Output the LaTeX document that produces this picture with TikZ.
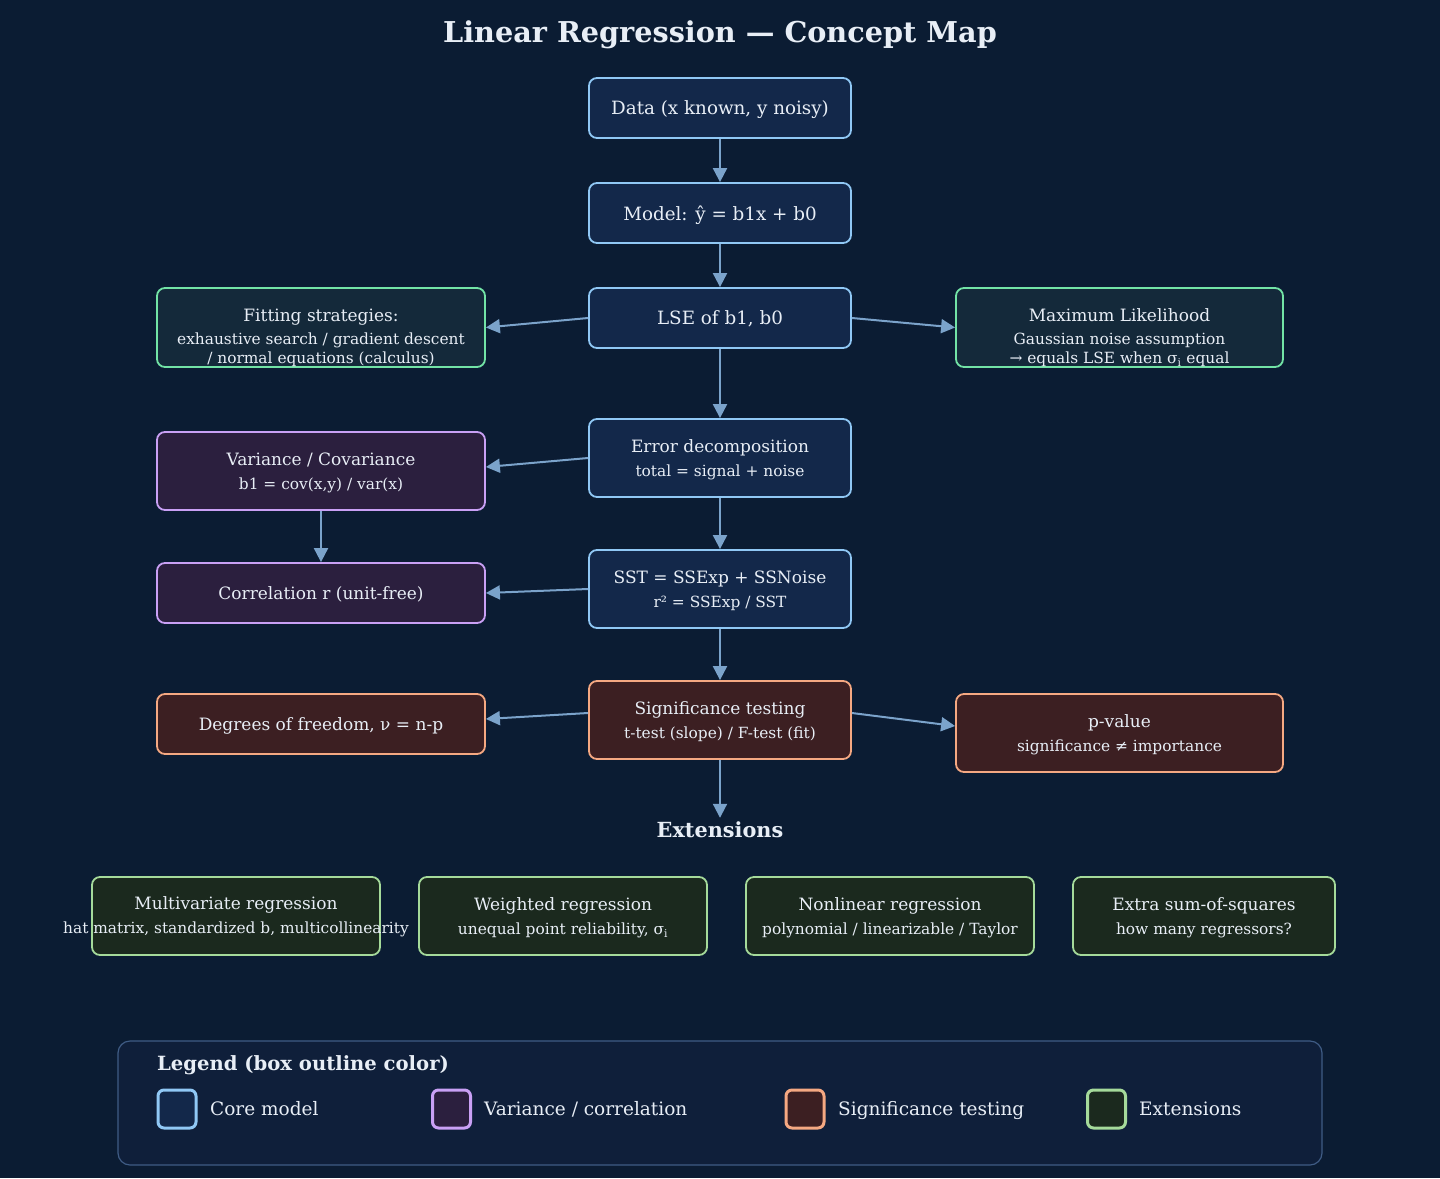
\documentclass[tikz,border=0pt]{standalone}
\usepackage{fontspec}
\setmainfont{DejaVu Serif}
\usetikzlibrary{arrows.meta}

\definecolor{bg}{HTML}{0B1C33}
\definecolor{txt}{HTML}{E8EEF6}
\definecolor{arrowc}{HTML}{7BA3CB}
\definecolor{corefill}{HTML}{13284A}
\definecolor{coreline}{HTML}{90C8F5}
\definecolor{fitfill}{HTML}{14293A}
\definecolor{fitline}{HTML}{72E3A6}
\definecolor{varfill}{HTML}{2B1F3E}
\definecolor{varline}{HTML}{C9A0F5}
\definecolor{sigfill}{HTML}{3C1F22}
\definecolor{sigline}{HTML}{F5A882}
\definecolor{extfill}{HTML}{1B291E}
\definecolor{extline}{HTML}{A5DA9A}
\definecolor{legfill}{HTML}{0F1F3A}
\definecolor{legline}{HTML}{3F5C85}

% first line of a box and the smaller lines under it
\newcommand{\hd}[1]{{\fontsize{17}{24}\selectfont #1}}
\newcommand{\sub}[1]{{\fontsize{15.4}{24}\selectfont #1}}

\tikzset{
  box/.style={rounded corners=8pt, line width=1.8pt, align=center, text=txt,
    inner sep=0pt, minimum width=262pt, minimum height=60pt, text depth=0pt,
    font=\fontsize{15.4}{24}\selectfont},
  corebox/.style={box, draw=coreline, fill=corefill},
  fitbox/.style={box, draw=fitline, fill=fitfill, minimum width=328pt, minimum height=79pt},
  varbox/.style={box, draw=varline, fill=varfill, minimum width=328pt},
  sigbox/.style={box, draw=sigline, fill=sigfill},
  extbox/.style={box, draw=extline, fill=extfill, minimum width=288pt, minimum height=78pt},
  label/.style={text=txt, align=center, inner sep=0pt, font=\fontsize{15.4}{24}\selectfont},
  big/.style={font=\fontsize{18.3}{22}\selectfont},
  mid/.style={font=\fontsize{17}{22}\selectfont},
  link/.style={draw=arrowc, line width=2pt, -{Triangle[length=14pt,width=14pt]}},
  swatch/.style={rounded corners=6pt, line width=3pt, minimum width=38pt, minimum height=38pt, inner sep=0pt},
  legtext/.style={text=txt, anchor=base west, inner sep=0pt, font=\fontsize{18.5}{22}\selectfont}
}

\begin{document}
\begin{tikzpicture}[x=1pt,y=-1pt]
  \useasboundingbox (0,0) rectangle (1440,1178);
  \fill[bg] (0,0) rectangle (1440,1178);

  % title
  \node[text=txt, font=\bfseries\fontsize{28.7}{32}\selectfont] (title) at (720,35) {Linear Regression — Concept Map};

  % core chain
  \node[corebox, big] (data)  at (720,108) {Data (x known, y noisy)};
  \node[corebox, big] (model) at (720,213) {Model: ŷ = b1x + b0};
  \node[corebox, big] (lse)   at (720,318) {LSE of b1, b0};
  \node[corebox, minimum height=78pt] (err) at (720,458) {\hd{Error decomposition}\\\sub{total = signal + noise}};
  \node[corebox, minimum height=78pt] (sst) at (720,589) {\hd{SST = SSExp + SSNoise}\\\sub{r² = SSExp / SST}};
  \node[sigbox, minimum height=78pt] (sig) at (720,720) {\hd{Significance testing}\\\sub{t-test (slope) / F-test (fit)}};

  % side branches
  \node[fitbox] (fit) at (321,327.5) {};
  \node[label] (fitt) at (321,338) {\hd{Fitting strategies:}\\[-1pt]\sub{exhaustive search / gradient descent}\\[-5pt]\sub{/ normal equations (calculus)}};
  \node[fitbox, minimum width=327pt] (ml) at (1119.5,327.5) {};
  \node[label] (mlt) at (1119.5,338) {\hd{Maximum Likelihood}\\[-1pt]\sub{Gaussian noise assumption}\\[-5pt]\sub{→ equals LSE when σ\textsubscript{i} equal}};
  \node[varbox, minimum height=78pt] (var) at (321,471) {\hd{Variance / Covariance}\\\sub{b1 = cov(x,y) / var(x)}};
  \node[varbox, mid] (corr) at (321,593) {Correlation r (unit-free)};
  \node[sigbox, mid, minimum width=328pt] (dof) at (321,724) {Degrees of freedom, ν = n-p};
  \node[sigbox, minimum width=327pt, minimum height=78pt] (pv) at (1119.5,733) {\hd{p-value}\\\sub{significance ≠ importance}};

  % extensions
  \node[text=txt, font=\bfseries\fontsize{20.8}{24}\selectfont, inner sep=0pt, minimum height=24pt] (extl) at (720,830) {Extensions};
  \node[extbox] (multi) at (236,916) {};
  \node[label] (multit) at (236,917) {\hd{Multivariate regression}\\\sub{hat matrix, standardized b, multicollinearity}};
  \node[extbox] (wls)   at (563,916) {\hd{Weighted regression}\\\sub{unequal point reliability, σ\textsubscript{i}}};
  \node[extbox] (nonl)  at (890,916) {\hd{Nonlinear regression}\\\sub{polynomial / linearizable / Taylor}};
  \node[extbox, minimum width=262pt] (extra) at (1204,916) {\hd{Extra sum-of-squares}\\\sub{how many regressors?}};

  % connectors
  \draw[link] (data.south) -- (model.north);
  \draw[link] (model.south) -- (lse.north);
  \draw[link] (lse.west) -- (fit.east);
  \draw[link] (lse.east) -- (ml.west);
  \draw[link] (lse.south) -- (err.north);
  \draw[link] (err.west) -- ([yshift=4pt]var.east);
  \draw[link] (var.south) -- (corr.north);
  \draw[link] (err.south) -- (sst.north);
  \draw[link] (sst.west) -- (corr.east);
  \draw[link] (sst.south) -- (sig.north);
  \draw[link] ([yshift=7pt]sig.west) -- ([yshift=5pt]dof.east);
  \draw[link] ([yshift=7pt]sig.east) -- ([yshift=7pt]pv.west);
  \draw[link] (sig.south) -- (extl.north);

  % legend
  \draw[legline, fill=legfill, line width=1.2pt, rounded corners=12pt] (118,1041) rectangle (1322,1165);
  \node[text=txt, anchor=base west, inner sep=0pt, font=\bfseries\fontsize{19.6}{22}\selectfont] (legt) at (157,1070) {Legend (box outline color)};
  \node[swatch, draw=coreline, fill=corefill] (s1) at (177,1109) {};
  \node[legtext] (l1) at (210,1115.5) {Core model};
  \node[swatch, draw=varline, fill=varfill] (s2) at (451.5,1109) {};
  \node[legtext] (l2) at (484,1115.5) {Variance / correlation};
  \node[swatch, draw=sigline, fill=sigfill] (s3) at (805,1109) {};
  \node[legtext] (l3) at (838,1115.5) {Significance testing};
  \node[swatch, draw=extline, fill=extfill] (s4) at (1106.5,1109) {};
  \node[legtext] (l4) at (1139,1115.5) {Extensions};
\end{tikzpicture}
\end{document}
